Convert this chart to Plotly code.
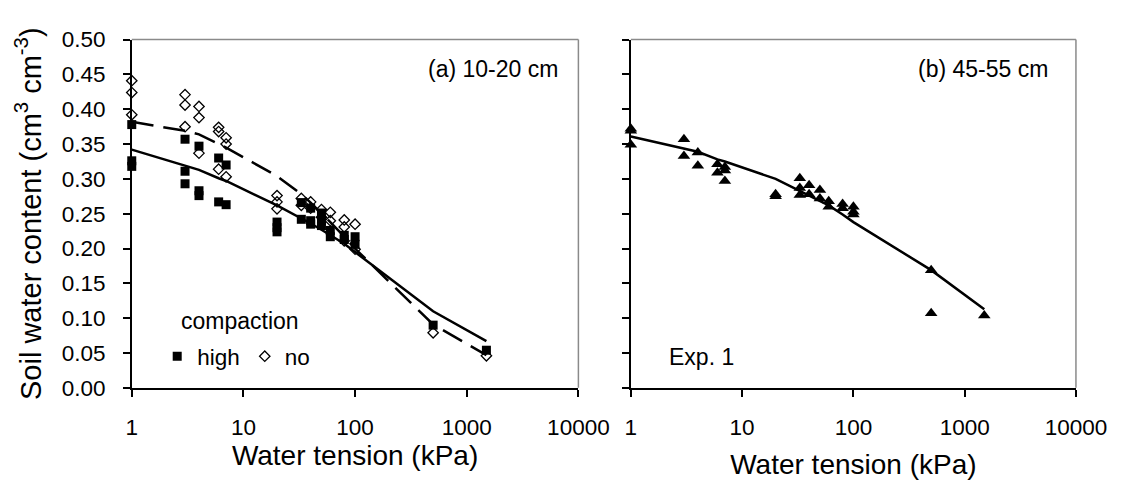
import plotly.graph_objects as go

# ---------------- data ----------------
tension_ticks = [1, 10, 100, 1000, 10000]
tension_tick_text = ["1", "10", "100", "1000", "10000"]
wc_ticks = [0.0, 0.05, 0.10, 0.15, 0.20, 0.25, 0.30, 0.35, 0.40, 0.45, 0.50]

# panel (a) 10-20 cm, high compaction (filled squares)
high_x = [1, 1, 1, 3, 3, 3, 4, 4, 4, 6, 6, 7, 7, 20, 20, 20, 33, 33, 40, 40, 40,
          50, 50, 50, 60, 60, 80, 80, 100, 100, 500, 1500]
high_y = [0.378, 0.326, 0.318, 0.357, 0.311, 0.293, 0.347, 0.283, 0.276, 0.330, 0.267,
          0.320, 0.263, 0.238, 0.230, 0.224, 0.266, 0.242, 0.258, 0.240, 0.235,
          0.251, 0.240, 0.233, 0.226, 0.217, 0.219, 0.213, 0.217, 0.206, 0.090, 0.054]

# panel (a) 10-20 cm, no compaction (open diamonds)
no_x = [1, 1, 1, 3, 3, 3, 4, 4, 4, 6, 6, 6, 7, 7, 7, 20, 20, 20, 33, 33, 40, 40,
        50, 50, 60, 60, 80, 80, 80, 100, 100, 500, 1500]
no_y = [0.441, 0.424, 0.392, 0.421, 0.406, 0.375, 0.404, 0.388, 0.337, 0.374, 0.368, 0.314,
        0.359, 0.350, 0.303, 0.276, 0.267, 0.257, 0.272, 0.262, 0.267, 0.258,
        0.256, 0.245, 0.252, 0.240, 0.241, 0.231, 0.211, 0.235, 0.199, 0.079, 0.046]

# fitted curves
fit_x = [1, 3, 4, 6, 7, 20, 33, 40, 50, 60, 80, 100, 500, 1500]
high_fit = [0.342, 0.319, 0.313, 0.301, 0.297, 0.262, 0.244, 0.236, 0.227, 0.219, 0.207, 0.195, 0.110, 0.067]
no_fit = [0.382, 0.369, 0.364, 0.350, 0.345, 0.304, 0.278, 0.266, 0.251, 0.238, 0.217, 0.200, 0.091, 0.047]

# panel (b) 45-55 cm, Exp. 1 (filled triangles)
exp1_x = [1, 1, 1, 3, 3, 4, 4, 6, 6, 7, 7, 7, 20, 20, 33, 33, 33, 40, 40, 50, 50,
          60, 60, 80, 80, 100, 100, 100, 500, 500, 1500]
exp1_y = [0.372, 0.369, 0.349, 0.357, 0.333, 0.338, 0.319, 0.321, 0.309, 0.317, 0.312, 0.297,
          0.278, 0.275, 0.301, 0.287, 0.277, 0.291, 0.278, 0.284, 0.272,
          0.268, 0.260, 0.264, 0.258, 0.260, 0.253, 0.249, 0.169, 0.107, 0.104]
exp1_fit = [0.361, 0.344, 0.339, 0.328, 0.325, 0.300, 0.283, 0.276, 0.268, 0.262, 0.249, 0.238, 0.169, 0.113]

# ---------------- figure ----------------
W, H = 1142, 481
FONT = "Liberation Sans, Arial, sans-serif"

def px_x(p):
    return p / W

def px_y(p):
    return (H - p) / H

fig = go.Figure()

# panel (a)
fig.add_trace(go.Scatter(x=fit_x, y=high_fit, mode="lines", xaxis="x", yaxis="y",
                         line=dict(color="black", width=2.5), showlegend=False,
                         cliponaxis=False, hoverinfo="skip"))
fig.add_trace(go.Scatter(x=fit_x, y=no_fit, mode="lines", xaxis="x", yaxis="y",
                         line=dict(color="black", width=2.5, dash="22px,10px"), showlegend=False,
                         cliponaxis=False, hoverinfo="skip"))
fig.add_trace(go.Scatter(x=high_x, y=high_y, mode="markers", name="high", xaxis="x", yaxis="y",
                         marker=dict(symbol="square", size=9, color="black"),
                         cliponaxis=False))
fig.add_trace(go.Scatter(x=no_x, y=no_y, mode="markers", name="no", xaxis="x", yaxis="y",
                         marker=dict(symbol="diamond-open", size=8, color="black",
                                     line=dict(width=1.3, color="black")),
                         cliponaxis=False))

# panel (b)
fig.add_trace(go.Scatter(x=fit_x, y=exp1_fit, mode="lines", xaxis="x2", yaxis="y2",
                         line=dict(color="black", width=2.5), showlegend=False,
                         cliponaxis=False, hoverinfo="skip"))
fig.add_trace(go.Scatter(x=exp1_x, y=exp1_y, mode="markers", name="Exp. 1", xaxis="x2", yaxis="y2",
                         marker=dict(symbol="triangle-up", size=11, color="black"),
                         showlegend=False, cliponaxis=False))

xdom1 = [px_x(121.7), px_x(583.3)]
xdom2 = [px_x(637.5), px_x(1097.5)]
ydom = [px_y(388), px_y(20.7)]

axis_common = dict(
    showline=True, linecolor="black", linewidth=1.5,
    ticks="outside", ticklen=7, tickwidth=1.5, tickcolor="black",
    showgrid=False, zeroline=False,
    tickfont=dict(family=FONT, size=22.5, color="black"),
)

xaxis_common = dict(axis_common, type="log", range=[0, 4],
                    tickmode="array", tickvals=tension_ticks, ticktext=tension_tick_text,
                    ticklabelstandoff=11)

fig.update_layout(
    width=W, height=H,
    margin=dict(l=0, r=0, t=0, b=0),
    paper_bgcolor="white", plot_bgcolor="white",
    font=dict(family=FONT, color="black", size=22.5),
    xaxis=dict(xaxis_common, domain=xdom1, anchor="y",
               title=dict(text="Water tension (kPa)", font=dict(size=28), standoff=5)),
    yaxis=dict(axis_common, domain=ydom, anchor="x", range=[0, 0.5],
               tickmode="array", tickvals=wc_ticks, tickformat=".2f",
               ticklabelstandoff=13,
               title=dict(text="Soil water content (cm<sup>3</sup> cm<sup>-3</sup>)",
                          font=dict(size=29), standoff=12)),
    xaxis2=dict(xaxis_common, domain=xdom2, anchor="y2",
                title=dict(text="Water tension (kPa)", font=dict(size=28), standoff=16)),
    yaxis2=dict(axis_common, domain=ydom, anchor="x2", range=[0, 0.5],
                tickmode="array", tickvals=wc_ticks, showticklabels=False),
    showlegend=True,
    legend=dict(orientation="h", x=px_x(148), y=px_y(355), xanchor="left", yanchor="middle",
                bgcolor="rgba(0,0,0,0)", font=dict(size=22.5), itemwidth=30,
                tracegroupgap=0),
    shapes=[
        dict(type="line", xref="x domain", yref="y domain", x0=0, x1=1, y0=1, y1=1,
             line=dict(color="#8a8a8a", width=1.5)),
        dict(type="line", xref="x domain", yref="y domain", x0=1, x1=1, y0=0, y1=1,
             line=dict(color="#8a8a8a", width=1.5)),
        dict(type="line", xref="x2 domain", yref="y2 domain", x0=0, x1=1, y0=1, y1=1,
             line=dict(color="#8a8a8a", width=1.5)),
        dict(type="line", xref="x2 domain", yref="y2 domain", x0=1, x1=1, y0=0, y1=1,
             line=dict(color="#8a8a8a", width=1.5)),
    ],
    annotations=[
        dict(text="(a) 10-20 cm", xref="paper", yref="paper", x=px_x(564), y=px_y(52),
             xanchor="right", yanchor="middle", showarrow=False, font=dict(size=23)),
        dict(text="(b) 45-55 cm", xref="paper", yref="paper", x=px_x(1071), y=px_y(52),
             xanchor="right", yanchor="middle", showarrow=False, font=dict(size=23)),
        dict(text="compaction", xref="paper", yref="paper", x=px_x(171), y=px_y(317),
             xanchor="left", yanchor="middle", showarrow=False, font=dict(size=23)),
        dict(text="Exp. 1", xref="paper", yref="paper", x=px_x(675), y=px_y(355),
             xanchor="left", yanchor="middle", showarrow=False, font=dict(size=23)),
    ],
)

fig.write_html("out.html")
